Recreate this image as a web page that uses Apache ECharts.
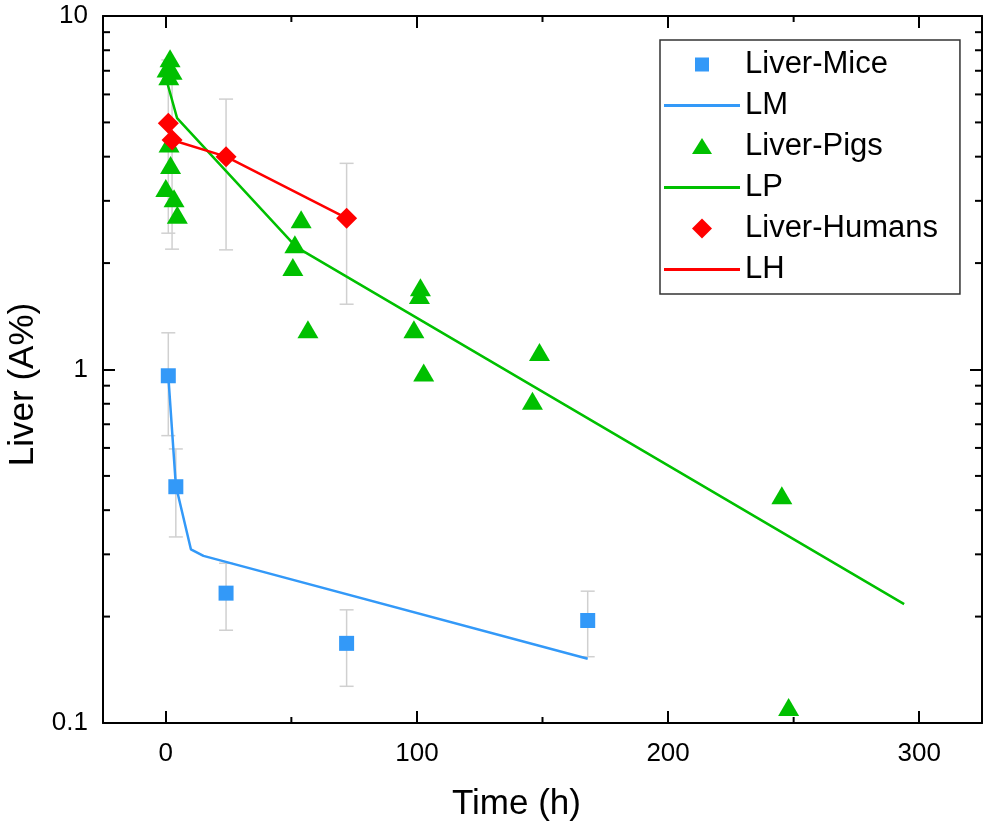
<!DOCTYPE html>
<html>
<head>
<meta charset="utf-8">
<script src="https://cdn.jsdelivr.net/npm/echarts@6/dist/echarts.min.js"></script>
<style>
  html, body { margin: 0; padding: 0; background: #fff; }
  #main { width: 986px; height: 829px; }
</style>
</head>
<body>
<div id="main"></div>
<script>
// mice: time (h), liver A%, error
var miceT = [1, 4, 24, 72, 168];
var miceV = [0.96, 0.466, 0.233, 0.168, 0.195];
var miceErr = [0.31, 0.13, 0.05, 0.041, 0.041];
// mice fit line (LM)
var lmT = [1, 4, 10, 15, 168];
var lmV = [0.96, 0.47, 0.31, 0.297, 0.152];

// pigs
var pigT = [1.7, 0.5, 2.5, 1.2, 1.3, 1.9, 0, 3.3, 4.6, 53.9, 51.4, 50.6, 56.6, 101.4, 101, 98.8, 102.7, 148.8, 146, 245.3, 248];
var pigV = [7.6, 7.1, 7.0, 6.75, 4.36, 3.79, 3.26, 3.05, 2.74, 2.66, 2.26, 1.95, 1.30, 1.71, 1.625, 1.30, 0.98, 1.12, 0.816, 0.441, 0.111];
// pigs fit line (LP)
var lpT = [0, 4.5, 52, 294];
var lpV = [6.7, 5.14, 2.22, 0.217];

// humans
var humT = [1, 2.5, 24, 72];
var humV = [4.97, 4.46, 4.0, 2.68];
var humErr = [2.54, 2.27, 1.82, 1.15];
// humans line (LH)
var lhT = [1, 2.5, 24, 72];
var lhV = [4.97, 4.46, 4.0, 2.68];

var xMinorTicks = [50, 150, 250];
var yMinorTicks = [0.2, 0.3, 0.4, 0.5, 0.6, 0.7, 0.8, 0.9, 2, 3, 4, 5, 6, 7, 8, 9];

var blue = '#3399f8', green = '#00c000', red = '#ff0000';
var font = "'Liberation Sans', Arial, sans-serif";
// legend icons (paths keep their aspect; leading moves pad the box)
var lineIcon = 'path://M0,0h76v3h-76z';
var squareIcon = 'path://M0,0M21,21M3.5,3.5h14v14h-14z';
var triIcon = 'path://M0,0M24,21M12,2L22,18L2,18Z';
var diamondIcon = 'path://M0,0M21,21M10.5,0.5L20.5,10.5L10.5,20.5L0.5,10.5Z';

function zip(a, b) {
    return a.map(function (v, i) { return [v, b[i]]; });
}
function errData(t, v, e) {
    return t.map(function (x, i) { return [x, v[i], v[i] - e[i], v[i] + e[i]]; });
}

var myChart = echarts.init(document.getElementById('main'));

var axisCommon = {
    axisLine: { show: true, onZero: false, lineStyle: { color: '#000', width: 2 } },
    splitLine: { show: false }
};

option = {
    animation: false,
    backgroundColor: '#fff',
    textStyle: { fontFamily: font },
    grid: { left: 103, right: 4, top: 16, bottom: 106, outerBoundsMode: 'none' },
    legend: {
        orient: 'vertical',
        left: 660,
        top: 40,
        padding: [9, 22, 9, 4],
        itemGap: 10,
        itemWidth: 76,
        itemHeight: 21,
        symbolKeepAspect: true,
        borderColor: '#333',
        borderWidth: 1.5,
        textStyle: { fontSize: 31, color: '#000', fontFamily: font },
        data: [
            { name: 'Liver-Mice', icon: squareIcon },
            { name: 'LM', icon: lineIcon },
            { name: 'Liver-Pigs', icon: triIcon },
            { name: 'LP', icon: lineIcon },
            { name: 'Liver-Humans', icon: diamondIcon },
            { name: 'LH', icon: lineIcon }
        ]
    },
    xAxis: [
        Object.assign({
            type: 'value', min: -25, max: 325, splitNumber: 4, position: 'bottom',
            name: 'Time (h)', nameLocation: 'middle', nameGap: 64,
            nameTextStyle: { fontSize: 35, color: '#000', fontFamily: font, padding: [0, 52, 0, 0] },
            axisTick: { inside: true, length: 12, lineStyle: { color: '#000', width: 2 } },
            axisLabel: { fontSize: 26, color: '#000', margin: 18, showMinLabel: false, showMaxLabel: false, fontFamily: font }
        }, axisCommon),
        Object.assign({
            type: 'value', min: -25, max: 325, splitNumber: 4, position: 'top',
            axisTick: { inside: true, length: 12, lineStyle: { color: '#000', width: 2 } },
            axisLabel: { show: false }
        }, axisCommon)
    ],
    yAxis: [
        Object.assign({
            type: 'log', logBase: 10, min: 0.1, max: 10, position: 'left',
            name: 'Liver (A%)', nameLocation: 'middle', nameGap: 62,
            nameTextStyle: { fontSize: 35, color: '#000', fontFamily: font, padding: [0, 30, 0, 0] },
            axisTick: { inside: true, length: 12, lineStyle: { color: '#000', width: 2 } },
            axisLabel: { fontSize: 26, color: '#000', margin: 15, fontFamily: font }
        }, axisCommon),
        Object.assign({
            type: 'log', logBase: 10, min: 0.1, max: 10, position: 'right',
            axisTick: { inside: true, length: 12, lineStyle: { color: '#000', width: 2 } },
            axisLabel: { show: false }
        }, axisCommon)
    ],
    series: [
        {
            // error bars
            type: 'custom', name: 'err', z: 1,
            renderItem: function (params, api) {
                var x = api.value(0);
                var lo = api.coord([x, api.value(2)]);
                var hi = api.coord([x, api.value(3)]);
                var w = 7;
                var st = { stroke: '#d0d0d0', lineWidth: 1.5 };
                return {
                    type: 'group',
                    children: [
                        { type: 'line', shape: { x1: lo[0], y1: lo[1], x2: hi[0], y2: hi[1] }, style: st },
                        { type: 'line', shape: { x1: lo[0] - w, y1: lo[1], x2: lo[0] + w, y2: lo[1] }, style: st },
                        { type: 'line', shape: { x1: hi[0] - w, y1: hi[1], x2: hi[0] + w, y2: hi[1] }, style: st }
                    ]
                };
            },
            data: errData(miceT, miceV, miceErr).concat(errData(humT, humV, humErr))
        },
        {
            name: 'Liver-Mice', type: 'scatter', symbol: 'rect', symbolSize: 15, z: 3,
            itemStyle: { color: blue, opacity: 1 }, data: zip(miceT, miceV)
        },
        {
            name: 'LM', type: 'line', symbol: 'none', z: 2,
            lineStyle: { color: blue, width: 2.5 }, itemStyle: { color: blue },
            data: zip(lmT, lmV)
        },
        {
            name: 'Liver-Pigs', type: 'scatter', symbol: 'triangle', symbolSize: [21, 18], z: 3,
            itemStyle: { color: green, opacity: 1 }, data: zip(pigT, pigV)
        },
        {
            name: 'LP', type: 'line', symbol: 'none', z: 4,
            lineStyle: { color: green, width: 2.5 }, itemStyle: { color: green },
            data: zip(lpT, lpV)
        },
        {
            name: 'Liver-Humans', type: 'scatter', symbol: 'diamond', symbolSize: [21, 21], z: 5,
            itemStyle: { color: red, opacity: 1 }, data: zip(humT, humV)
        },
        {
            name: 'LH', type: 'line', symbol: 'none', z: 5,
            lineStyle: { color: red, width: 2.5 }, itemStyle: { color: red },
            data: zip(lhT, lhV)
        },
        {
            // minor ticks on x (bottom and top)
            type: 'custom', name: 'xminor', z: 10, silent: true,
            renderItem: function (params, api) {
                var r = params.coordSys;
                var p = api.coord([api.value(0), 1]);
                var st = { stroke: '#000', lineWidth: 2 };
                return {
                    type: 'group',
                    children: [
                        { type: 'line', shape: { x1: p[0], y1: r.y + r.height, x2: p[0], y2: r.y + r.height - 6 }, style: st },
                        { type: 'line', shape: { x1: p[0], y1: r.y, x2: p[0], y2: r.y + 6 }, style: st }
                    ]
                };
            },
            data: xMinorTicks.map(function (v) { return [v, 1]; })
        },
        {
            // minor ticks on y (left and right)
            type: 'custom', name: 'yminor', z: 10, silent: true,
            renderItem: function (params, api) {
                var r = params.coordSys;
                var p = api.coord([0, api.value(1)]);
                var st = { stroke: '#000', lineWidth: 2 };
                return {
                    type: 'group',
                    children: [
                        { type: 'line', shape: { x1: r.x, y1: p[1], x2: r.x + 7, y2: p[1] }, style: st },
                        { type: 'line', shape: { x1: r.x + r.width, y1: p[1], x2: r.x + r.width - 7, y2: p[1] }, style: st }
                    ]
                };
            },
            data: yMinorTicks.map(function (v) { return [0, v]; })
        }
    ]
};
myChart.setOption(option);
</script>
</body>
</html>
